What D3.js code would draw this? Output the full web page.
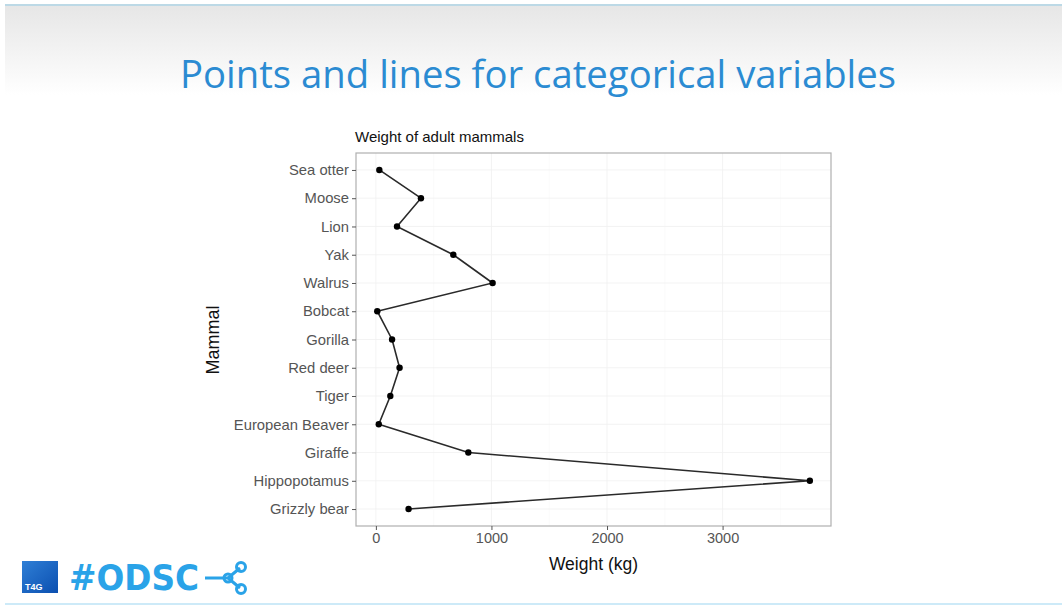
<!DOCTYPE html>
<html><head><meta charset="utf-8">
<script src="https://cdn.jsdelivr.net/npm/d3@7"></script>
<style>body{margin:0;background:#fff}svg{display:block}</style>
</head><body>
<script>
const mammals = ["Sea otter","Moose","Lion","Yak","Walrus","Bobcat","Gorilla","Red deer","Tiger","European Beaver","Giraffe","Hippopotamus","Grizzly bear"];
const weights = [30, 390, 183, 670, 1010, 12, 140, 205, 125, 25, 800, 3755, 283];
const xTicks = [0, 1000, 2000, 3000];

(function(){
const W = 1062, H = 610;
const svg = d3.select("body").append("svg").attr("width", W).attr("height", H);
const defs = svg.append("defs");
const g1 = defs.append("linearGradient").attr("id","topg").attr("x1",0).attr("x2",0).attr("y1",0).attr("y2",1);
g1.append("stop").attr("offset","0").attr("stop-color","#e6e6e6");
g1.append("stop").attr("offset","1").attr("stop-color","#ffffff");
const g2 = defs.append("linearGradient").attr("id","logog").attr("x1",0).attr("x2",1).attr("y1",0).attr("y2",1);
g2.append("stop").attr("offset","0").attr("stop-color","#2f7fd6");
g2.append("stop").attr("offset","1").attr("stop-color","#0b4fb0");

svg.append("rect").attr("width",W).attr("height",H).attr("fill","#fff");
svg.append("rect").attr("x",5).attr("y",5).attr("width",W-5).attr("height",90).attr("fill","url(#topg)");
svg.append("rect").attr("x",5).attr("y",4).attr("width",W-5).attr("height",2).attr("fill","#bcd9e6");

svg.append("text").attr("x",538).attr("y",88).attr("text-anchor","middle")
  .attr("font-family","Open Sans, sans-serif").attr("font-size",39)
  .attr("textLength",716).attr("lengthAdjust","spacingAndGlyphs")
  .attr("fill","#2b8bd2").text("Points and lines for categorical variables");

// plot panel
const pL = 356, pR = 831, pT = 153, pB = 526;
const x = d3.scaleLinear().domain([-172, 3938]).range([pL, pR]);
const y = d3.scalePoint().domain(mammals).range([pT, pB]).padding(0.6);

const gridMinor = [500,1500,2500,3500];
const gp = svg.append("g");
xTicks.forEach(v=>gp.append("line").attr("x1",x(v)).attr("x2",x(v)).attr("y1",pT).attr("y2",pB).attr("stroke","#f0f0f0").attr("stroke-width",0.8));
gridMinor.forEach(v=>gp.append("line").attr("x1",x(v)).attr("x2",x(v)).attr("y1",pT).attr("y2",pB).attr("stroke","#f6f6f6").attr("stroke-width",0.5));
mammals.forEach(m=>gp.append("line").attr("x1",pL).attr("x2",pR).attr("y1",y(m)).attr("y2",y(m)).attr("stroke","#f0f0f0").attr("stroke-width",0.8));

const data = mammals.map((m,i)=>({m, w:weights[i]}));
svg.append("path").datum(data)
  .attr("d", d3.line().x(d=>x(d.w)).y(d=>y(d.m)))
  .attr("fill","none").attr("stroke","#2a2a2a").attr("stroke-width",1.6);
svg.selectAll("circle.pt").data(data).enter().append("circle")
  .attr("cx",d=>x(d.w)).attr("cy",d=>y(d.m)).attr("r",3.2).attr("fill","#000");

svg.append("rect").attr("x",pL).attr("y",pT).attr("width",pR-pL).attr("height",pB-pT)
  .attr("fill","none").attr("stroke","#b0b0b0").attr("stroke-width",1.2);

const xa = svg.append("g").attr("transform",`translate(0,${pB})`)
  .call(d3.axisBottom(x).tickValues(xTicks).tickSize(4).tickPadding(3).tickFormat(d3.format("d")));
xa.select(".domain").remove();
xa.selectAll("line").attr("stroke","#555");
xa.selectAll("text").attr("font-family","Liberation Sans, Arial, sans-serif").attr("font-size",14.5).attr("fill","#555");

const ya = svg.append("g").attr("transform",`translate(${pL},0)`)
  .call(d3.axisLeft(y).tickSize(4).tickPadding(3));
ya.select(".domain").remove();
ya.selectAll("line").attr("stroke","#555");
ya.selectAll("text").attr("font-family","Liberation Sans, Arial, sans-serif").attr("font-size",14.8).attr("fill","#555");

svg.append("text").attr("x",355).attr("y",142).attr("font-family","Liberation Sans, Arial, sans-serif")
  .attr("font-size",15).attr("fill","#111").text("Weight of adult mammals");
svg.append("text").attr("x",(pL+pR)/2).attr("y",570).attr("text-anchor","middle")
  .attr("font-family","Liberation Sans, Arial, sans-serif").attr("font-size",17.5).attr("fill","#111").text("Weight (kg)");
svg.append("text").attr("transform","translate(219,340) rotate(-90)").attr("text-anchor","middle")
  .attr("font-family","Liberation Sans, Arial, sans-serif").attr("font-size",18).attr("fill","#111").text("Mammal");

// logo
svg.append("rect").attr("x",22).attr("y",561).attr("width",36).attr("height",32).attr("fill","url(#logog)");
svg.append("text").attr("x",25).attr("y",590).attr("font-family","Liberation Sans, Arial, sans-serif")
  .attr("font-size",9).attr("font-weight","bold").attr("fill","#fff").text("T4G");
svg.append("text").attr("x",69).attr("y",590).attr("font-family","DejaVu Sans, sans-serif")
  .attr("font-size",36).attr("font-weight","bold").attr("textLength",130).attr("lengthAdjust","spacingAndGlyphs")
  .attr("fill","#2aa3e8").text("#ODSC");
const ic = svg.append("g").attr("stroke","#2aa3e8").attr("fill","none").attr("stroke-width",3);
ic.append("path").attr("d","M205 578 L228 578 M228 578 L240 568 M228 578 L240 588");
ic.append("circle").attr("cx",228).attr("cy",578).attr("r",4);
ic.append("circle").attr("cx",241).attr("cy",567).attr("r",4.5);
ic.append("circle").attr("cx",241).attr("cy",589).attr("r",4.5);
svg.append("rect").attr("x",5).attr("y",603).attr("width",W-5).attr("height",2).attr("fill","#cdeaf8");
})();
</script>
</body></html>
